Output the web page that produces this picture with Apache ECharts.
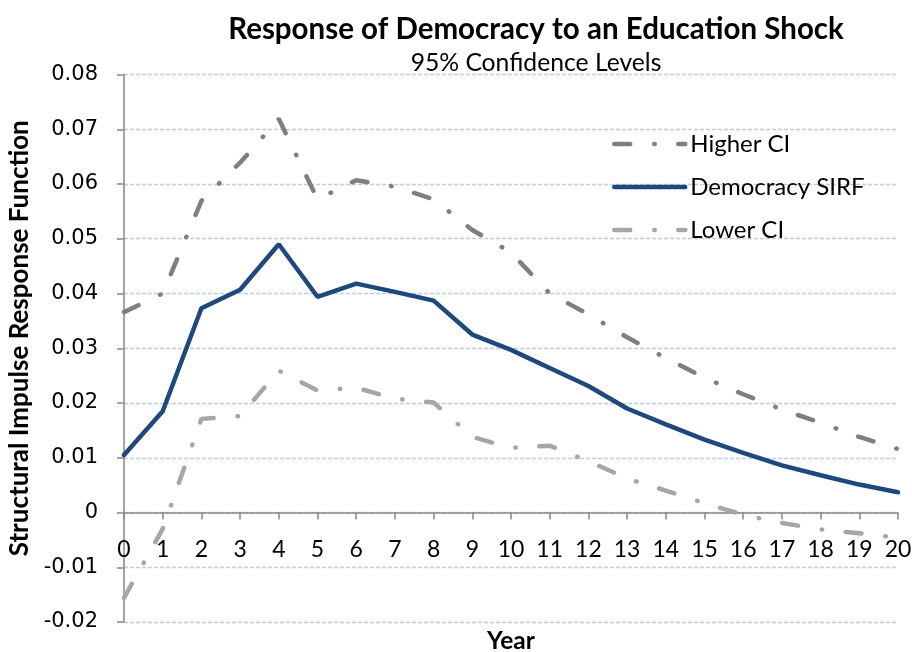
<!DOCTYPE html>
<html>
<head>
<meta charset="utf-8">
<script src="https://cdn.jsdelivr.net/npm/echarts@6/dist/echarts.min.js"></script>
<style>
  html, body { margin: 0; padding: 0; background: #ffffff; }
  #chart { width: 912px; height: 652px; }
</style>
</head>
<body>
<div id="chart"></div>
<script>
// Years after the shock (horizontal axis categories)
const years = ['0','1','2','3','4','5','6','7','8','9','10','11','12','13','14','15','16','17','18','19','20'];

// Structural impulse response of democracy and its 95% bands
const democracySirf = [0.0105, 0.0185, 0.0373, 0.0407, 0.0490, 0.0394, 0.0418, 0.0403, 0.0387, 0.0325, 0.0297,
                       0.0264, 0.0231, 0.0190, 0.0161, 0.0133, 0.0109, 0.0086, 0.0068, 0.0051, 0.0037];
const higherCI = [0.0366, 0.0400, 0.0569, 0.0639, 0.0719, 0.0572, 0.0607, 0.0595, 0.0572, 0.0516, 0.0475,
                  0.0400, 0.0362, 0.0320, 0.0282, 0.0246, 0.0216, 0.0188, 0.0164, 0.0138, 0.0116];
const lowerCI = [-0.0156, -0.0030, 0.0171, 0.0176, 0.0259, 0.0223, 0.0228, 0.0208, 0.0201, 0.0138, 0.0118,
                 0.0122, 0.0094, 0.0062, 0.0040, 0.0017, -0.0004, -0.0019, -0.0031, -0.0038, -0.0046];

// Value range of the vertical axis
const yMin = -0.02, yMax = 0.08, yStep = 0.01;

const chart = echarts.init(document.getElementById('chart'), null, { renderer: 'canvas' });

const sans = 'Lato, "Open Sans", sans-serif';
const dashDot = [16, 24, 0.5, 23.5];

// Plot box in pixels; the year axis sits on the zero line
const gridTop = 74.5, gridBottom = 30, chartH = 652;
const plotH = chartH - gridTop - gridBottom;
const zeroShift = plotH * (0 - yMin) / (yMax - yMin);

chart.setOption({
  animation: false,
  backgroundColor: '#ffffff',
  title: [
    {
      text: 'Response of Democracy to an Education Shock',
      left: 531, top: 9, textAlign: 'center',
      textStyle: { fontFamily: sans, fontWeight: 'bold', fontSize: 29.5, color: '#000000' }
    },
    {
      text: '95% Confidence Levels',
      left: 531, top: 46, textAlign: 'center',
      textStyle: { fontFamily: sans, fontWeight: 'normal', fontSize: 24.7, color: '#000000' }
    }
  ],
  legend: {
    orient: 'vertical',
    left: 607, top: 127,
    itemWidth: 71, itemHeight: 20, itemGap: 19,
    itemStyle: { opacity: 0 },
    lineStyle: { width: 4.5, cap: 'round' },
    textStyle: { fontFamily: sans, fontSize: 24, color: '#000000', lineHeight: 20 },
    data: ['Higher CI', 'Democracy SIRF', 'Lower CI']
  },
  grid: { left: 124, right: 14, top: gridTop, bottom: gridBottom, containLabel: false, outerBoundsMode: 'none' },
  xAxis: {
    type: 'category',
    data: years,
    boundaryGap: false,
    position: 'bottom',
    offset: -zeroShift,
    name: 'Year',
    nameLocation: 'middle',
    nameGap: 116,
    nameTextStyle: { fontFamily: sans, fontWeight: 'bold', fontSize: 24.5, color: '#000000' },
    axisLine: { onZero: false, lineStyle: { color: '#868686', width: 1.5 } },
    axisTick: { alignWithLabel: true, length: 7, lineStyle: { color: '#868686', width: 1.5 } },
    axisLabel: { fontFamily: sans, fontSize: 23, color: '#000000', margin: 26, interval: 0 },
    splitLine: { show: false }
  },
  yAxis: {
    type: 'value',
    min: yMin, max: yMax, interval: yStep,
    name: 'Structural Impulse Response Function',
    nameLocation: 'middle',
    nameGap: 89,
    nameRotate: 90,
    nameTextStyle: { fontFamily: sans, fontWeight: 'bold', fontSize: 26, color: '#000000', padding: [0, 0, 0, 20] },
    axisLine: { show: true, lineStyle: { color: '#868686', width: 1.5 } },
    axisTick: { show: true, length: 7, lineStyle: { color: '#868686', width: 1.5 } },
    axisLabel: {
      fontFamily: '"DejaVu Sans", sans-serif', fontSize: 21, color: '#000000', margin: 26,
      formatter: v => String(+v.toFixed(2))
    },
    splitLine: { show: true, lineStyle: { color: '#b9cde5', width: 1.3, type: [4, 2] } }
  },
  series: [
    {
      name: 'Higher CI', type: 'line', data: higherCI,
      symbol: 'none', z: 2,
      lineStyle: { color: '#7f7f7f', width: 4.5, type: dashDot, cap: 'round' },
      itemStyle: { color: '#7f7f7f' }
    },
    {
      name: 'Lower CI', type: 'line', data: lowerCI,
      symbol: 'none', z: 2,
      lineStyle: { color: '#a6a6a6', width: 4.5, type: dashDot, cap: 'round' },
      itemStyle: { color: '#a6a6a6' }
    },
    {
      name: 'Democracy SIRF', type: 'line', data: democracySirf,
      symbol: 'none', z: 3,
      lineStyle: { color: '#1f497d', width: 4.5, type: 'solid', cap: 'round' },
      itemStyle: { color: '#1f497d' }
    }
  ]
});
</script>
</body>
</html>
